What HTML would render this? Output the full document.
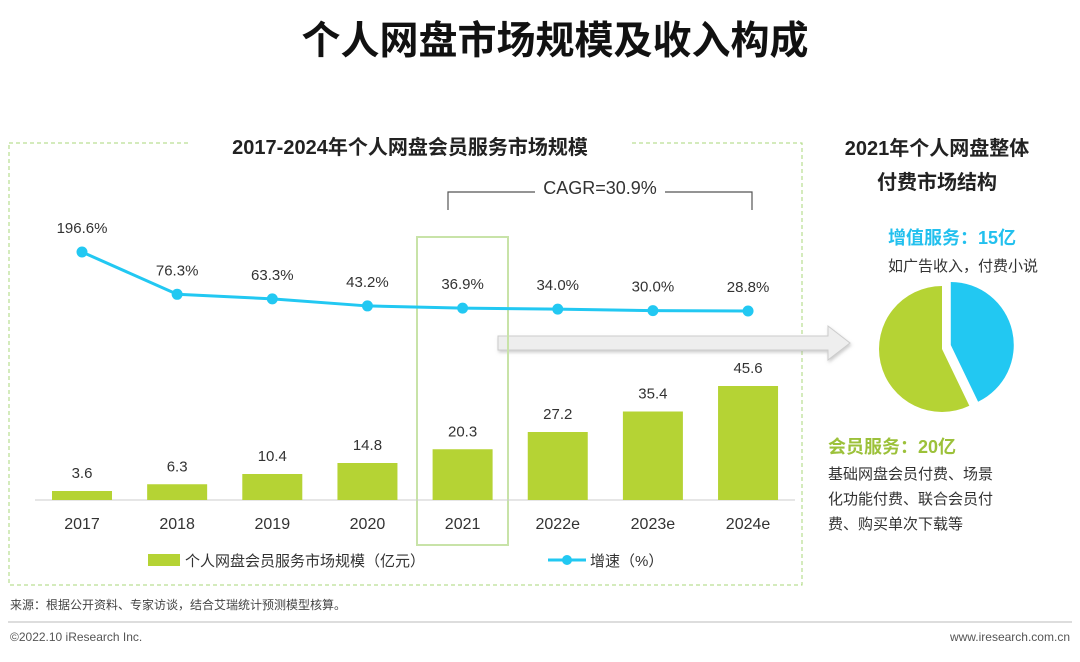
<!DOCTYPE html>
<html><head><meta charset="utf-8"><style>
body{margin:0;background:#fff;font-family:"Liberation Sans","Noto Sans CJK SC",sans-serif;}
svg text{font-family:"Liberation Sans","Noto Sans CJK SC",sans-serif;}
</style></head><body>
<svg id="chart" width="1080" height="657" viewBox="0 0 1080 657" xmlns="http://www.w3.org/2000/svg">
<defs><filter id="sh" x="-10%" y="-30%" width="120%" height="160%"><feDropShadow dx="1" dy="2" stdDeviation="1.5" flood-color="#999" flood-opacity="0.5"/></filter></defs>
<text x="555" y="54" text-anchor="middle" font-size="39" font-weight="bold" fill="#111">个人网盘市场规模及收入构成</text>
<rect x="9" y="143" width="793" height="442" fill="none" stroke="#a9d77a" stroke-dasharray="4,3"/>
<rect x="190" y="130" width="440" height="30" fill="#fff"/>
<text x="410" y="154" text-anchor="middle" font-size="20" font-weight="bold" fill="#222">2017-2024年个人网盘会员服务市场规模</text>
<path d="M448 210 V192 H535 M665 192 H752 V210" fill="none" stroke="#555" stroke-width="1.2"/>
<text x="600" y="194" text-anchor="middle" font-size="18" fill="#333">CAGR=30.9%</text>
<polygon points="498,336 828,336 828,326 850,343 828,360 828,350 498,350" fill="#eee" stroke="#ccc" filter="url(#sh)"/>
<rect x="417" y="237" width="91" height="308" fill="none" stroke="#c8e3a8" stroke-width="2"/>
<g id="bars"></g><g id="line"></g>
<rect x="148" y="554" width="32" height="12" fill="#b5d334"/>
<text x="185" y="566" font-size="15" fill="#333">个人网盘会员服务市场规模（亿元）</text>
<line x1="548" y1="560" x2="586" y2="560" stroke="#22c8f2" stroke-width="3"/>
<circle cx="567" cy="560" r="5" fill="#22c8f2"/>
<text x="590" y="566" font-size="15" fill="#333">增速（%）</text>
<text x="937" y="155" text-anchor="middle" font-size="20" font-weight="bold" fill="#222">2021年个人网盘整体</text>
<text x="937" y="189" text-anchor="middle" font-size="20" font-weight="bold" fill="#222">付费市场结构</text>
<text x="888" y="244" font-size="18" font-weight="bold" fill="#22c0ee">增值服务：15亿</text>
<text x="888" y="271" font-size="15" fill="#333">如广告收入，付费小说</text>
<g id="pie"></g>
<text x="828" y="453" font-size="18" font-weight="bold" fill="#9cc13a">会员服务：20亿</text>
<text x="828" y="479" font-size="15" fill="#333">基础网盘会员付费、场景</text>
<text x="828" y="504" font-size="15" fill="#333">化功能付费、联合会员付</text>
<text x="828" y="529" font-size="15" fill="#333">费、购买单次下载等</text>
<text x="10" y="609" font-size="12" fill="#444">来源：根据公开资料、专家访谈，结合艾瑞统计预测模型核算。</text>
<line x1="8" y1="622" x2="1072" y2="622" stroke="#bbb"/>
<text x="10" y="641" font-size="12" fill="#555">©2022.10 iResearch Inc.</text>
<text x="1070" y="641" text-anchor="end" font-size="12" fill="#555">www.iresearch.com.cn</text>
</svg>
<script>
const categories=["2017","2018","2019","2020","2021","2022e","2023e","2024e"];
const marketSize=[3.6,6.3,10.4,14.8,20.3,27.2,35.4,45.6];
const growth=[196.6,76.3,63.3,43.2,36.9,34.0,30.0,28.8];
const pieValues=[15,20];
const NS="http://www.w3.org/2000/svg";
function el(t,a,p){const e=document.createElementNS(NS,t);for(const k in a)e.setAttribute(k,a[k]);p.appendChild(e);return e;}
const xC=i=>82+i*95.15;
const yBar=v=>500-v*2.5;
const yLine=v=>311-(v-28.8)*0.3516;
const bars=document.getElementById('bars'),line=document.getElementById('line');
el('line',{x1:35,y1:500,x2:795,y2:500,stroke:'#ccc'},bars);
categories.forEach((c,i)=>{
 const r=el('rect',{x:xC(i)-30,y:yBar(marketSize[i]),width:60,height:500-yBar(marketSize[i]),fill:'#b5d334'},bars);
 
 
 const t=el('text',{x:xC(i),y:yBar(marketSize[i])-13,'text-anchor':'middle','font-size':15,fill:'#333'},bars);t.textContent=marketSize[i].toFixed(1);
 
 
 const x=el('text',{x:xC(i),y:529,'text-anchor':'middle','font-size':16,fill:'#333'},bars);x.textContent=c;
 
 
});
const pl=el('polyline',{points:growth.map((v,i)=>xC(i)+','+yLine(v)).join(' '),fill:'none',stroke:'#22c8f2','stroke-width':3},line);


growth.forEach((v,i)=>{
 const d=el('circle',{cx:xC(i),cy:yLine(v),r:5.5,fill:'#22c8f2'},line);
 
 
 const t=el('text',{x:xC(i),y:yLine(v)-19,'text-anchor':'middle','font-size':15,fill:'#333'},line);t.textContent=v.toFixed(1)+'%';
 
 
});
const pie=document.getElementById('pie');
const tot=pieValues[0]+pieValues[1];const R=63;
function arc(cx,cy,a0,a1,col){const p=a=>[cx+R*Math.sin(a),cy-R*Math.cos(a)];const [x0,y0]=p(a0),[x1,y1]=p(a1);const lg=(a1-a0)>Math.PI?1:0;
 return el('path',{d:`M${cx},${cy} L${x0},${y0} A${R},${R} 0 ${lg} 1 ${x1},${y1} Z`,fill:col},pie);}
const a1=pieValues[0]/tot*2*Math.PI;
const mid=a1/2;
const s1=arc(942+9*Math.sin(mid),347-9*Math.cos(mid),0,a1,'#22c8f2');


const s2=arc(942,349,a1,2*Math.PI,'#b5d334');


</script>
</body></html>
